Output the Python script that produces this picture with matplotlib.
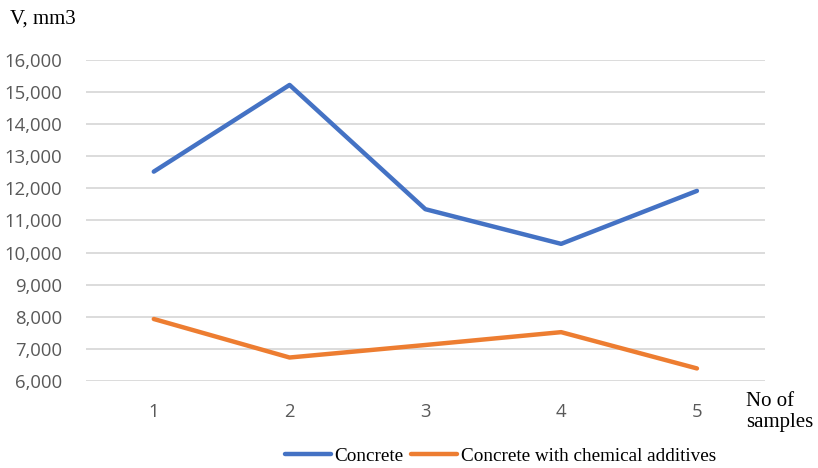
import matplotlib.pyplot as plt
from matplotlib.ticker import FuncFormatter

samples = [1, 2, 3, 4, 5]
concrete = [12520, 15220, 11350, 10270, 11920]
concrete_additives = [7930, 6730, 7120, 7520, 6390]

blue = "#4472C4"
orange = "#ED7D31"
tick_grey = "#595959"

fig = plt.figure(figsize=(8.18, 4.68), dpi=100)
ax = fig.add_axes([0.105, 0.186, 0.83, 0.686])

ax.plot(samples, concrete, color=blue, lw=3.2, solid_capstyle="round",
        label="Concrete")
ax.plot(samples, concrete_additives, color=orange, lw=3.2,
        solid_capstyle="round", label="Concrete with chemical additives")

ax.set_xlim(0.5, 5.5)
ax.set_ylim(6000, 16000)
ax.set_yticks(range(6000, 16001, 1000))
ax.set_xticks(samples)
ax.yaxis.set_major_formatter(FuncFormatter(lambda v, p: f"{int(v):,}"))
ax.grid(axis="y", color="#D9D9D9", lw=1.3)
ax.set_axisbelow(True)
for s in ax.spines.values():
    s.set_visible(False)
ax.tick_params(length=0, colors=tick_grey, labelsize=13.3)
ax.tick_params(axis="y", pad=17)
ax.tick_params(axis="x", pad=16)
for lbl in ax.get_xticklabels() + ax.get_yticklabels():
    lbl.set_family("Open Sans")

fig.text(0.012, 0.960, "V, mm3", family="Liberation Serif", fontsize=15,
         va="center", ha="left")
fig.text(0.912, 0.12, "No of\nsamples", family="Liberation Serif",
         fontsize=15, va="center", ha="left", linespacing=1.1)

leg = fig.legend(loc="center", bbox_to_anchor=(0.612, 0.026), ncol=2,
                 frameon=False, prop={"family": "Liberation Serif", "size": 13.8},
                 handlelength=2.4, handletextpad=0.2, columnspacing=0.4)

fig.savefig("out.png", dpi=100)
